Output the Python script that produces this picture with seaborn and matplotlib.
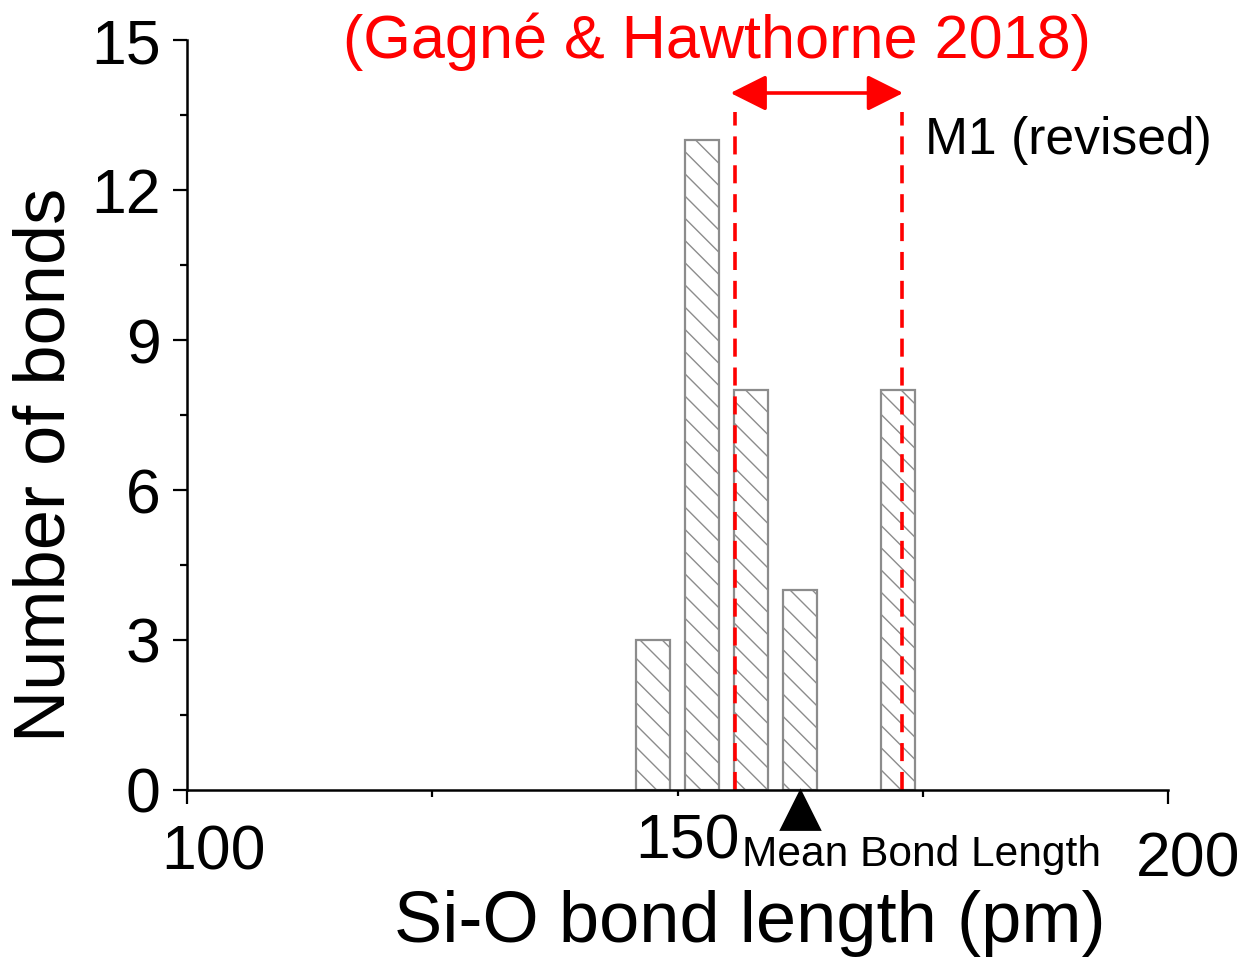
import numpy as np
import matplotlib
matplotlib.use('Agg')
import matplotlib.pyplot as plt
import seaborn as sns
from matplotlib.ticker import MultipleLocator
from matplotlib.transforms import ScaledTranslation

# Histogram of Si-O bond lengths (bin centres, pm) and counts
bin_centers = [147.5, 152.5, 157.5, 162.5, 172.5]
counts = [3, 13, 8, 4, 8]

# Reference range (Gagné & Hawthorne 2018) and mean bond length
range_low, range_high = 155.9, 172.9
mean_length = 162.5

sns.set_style('ticks')
plt.rcParams['font.family'] = ['Liberation Sans', 'DejaVu Sans']
plt.rcParams['hatch.linewidth'] = 0.5
for k in ['text.color', 'axes.labelcolor', 'xtick.color', 'ytick.color', 'axes.edgecolor']:
    plt.rcParams[k] = 'black'

fig = plt.figure(figsize=(6.26, 4.82), dpi=200)
ax = fig.add_axes([0.1494, 0.1805, 0.7835, 0.778])

sns.barplot(x=bin_centers, y=counts, native_scale=True, width=0.7, ax=ax)
for p in ax.patches:
    p.set_facecolor('white')
    p.set_edgecolor('#8c8c8c')
    p.set_linewidth(0.8)
    p.set_hatch('\\\\\\')

ax.set_xlim(100, 200)
ax.set_ylim(0, 15)
ax.set_xticks([100, 150, 200])
ax.xaxis.set_minor_locator(MultipleLocator(25))
ax.yaxis.set_major_locator(MultipleLocator(3))
ax.yaxis.set_minor_locator(MultipleLocator(1.5))
ax.tick_params(which='major', length=5, width=0.8, labelsize=22.5)
ax.tick_params(axis='x', which='major', pad=7)
ax.tick_params(axis='y', which='major', pad=4.5)
ax.tick_params(which='minor', length=2.5, width=0.8)
sns.despine(ax=ax)
for s in ['left', 'bottom']:
    ax.spines[s].set_linewidth(0.9)

# x tick labels sit slightly off their ticks in the original
label_shift = [(26, 0), (10, 11), (20, -7)]
for tick, (dx, dy) in zip(ax.xaxis.get_major_ticks(), label_shift):
    tick.label1.set_transform(tick.label1.get_transform() +
                              ScaledTranslation(dx / 200, dy / 200, fig.dpi_scale_trans))
ax.xaxis.get_major_ticks()[1].tick1line.set_markersize(2)

ax.set_xlabel('Si-O bond length (pm)', fontsize=26)
ax.set_ylabel('Number of bonds', fontsize=26)
ax.xaxis.set_label_coords(0.574, -0.133)
ax.yaxis.set_label_coords(-0.11, 0.433)

# red dashed range lines with double arrow
for xv in [range_low, range_high]:
    ax.plot([xv, xv], [0, 13.56], color='red', lw=1.3, ls=(0, (5, 3)), clip_on=False)
ax.annotate('', xy=(range_low - 0.5, 13.94), xytext=(range_high + 0.1, 13.94),
            arrowprops=dict(arrowstyle='<|-|>,head_length=1.0,head_width=0.5',
                            color='red', lw=1.3, mutation_scale=11,
                            shrinkA=0, shrinkB=0),
            annotation_clip=False)
ax.text(154.0, 14.96, '(Gagné & Hawthorne 2018)', color='red', fontsize=22,
        ha='center', va='center', clip_on=False)
ax.text(175.2, 13.0, 'M1 (revised)', fontsize=18.6, ha='left', va='center')

# mean bond length marker
ax.plot([mean_length], [-0.4], marker='^', color='black', markersize=14, clip_on=False)
ax.text(156.6, -1.3, 'Mean Bond Length', fontsize=15.3, ha='left', va='center',
        clip_on=False)

fig.savefig('out.png', dpi=200)
